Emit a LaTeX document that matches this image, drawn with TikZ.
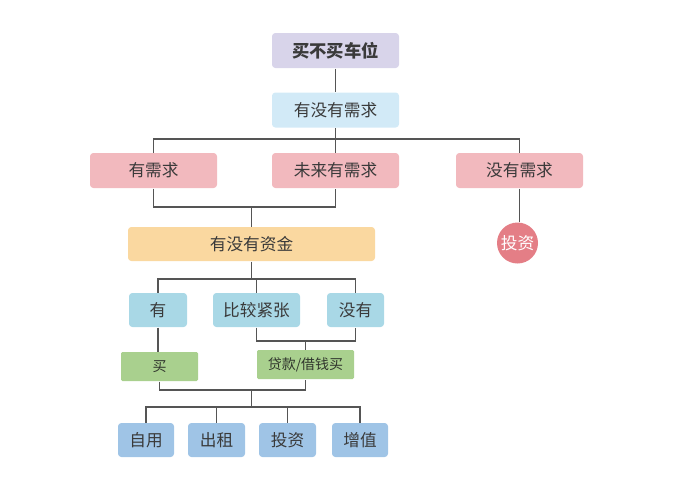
\documentclass[tikz,border=0pt]{standalone}
\usepackage{fontspec}
\setmainfont{Noto Sans CJK SC}
\definecolor{cPurple}{HTML}{D8D4EA}
\definecolor{cSky}{HTML}{D2EAF7}
\definecolor{cPink}{HTML}{F2B9BE}
\definecolor{cOrange}{HTML}{FAD8A0}
\definecolor{cRed}{HTML}{E47E86}
\definecolor{cTeal}{HTML}{A9D8E6}
\definecolor{cGreen}{HTML}{A9D08E}
\definecolor{cBlue}{HTML}{9FC4E6}
\definecolor{cLine}{HTML}{555555}
\definecolor{cText}{HTML}{3A3A3A}
\tikzset{every picture/.style={line width=0.75pt}}
\tikzset{
  box/.style={rectangle, rounded corners=2.5pt, inner sep=0pt, text=cText,
    minimum height=26.25pt, font=\fontsize{12.5pt}{14pt}\selectfont},
  smallbox/.style={box, rounded corners=1pt, minimum height=21.75pt,
    text=cText!80!cGreen!60!black, font=\fontsize{10.5pt}{12pt}\selectfont},
  link/.style={draw=cLine, line width=0.9pt}
}

\begin{document}
\begin{tikzpicture}[x=0.75pt,y=0.75pt,yscale=-1,xscale=1]
\useasboundingbox (0,0) rectangle (700,483);

%Title boxes
\node [box, fill=cPurple, minimum width=95.25pt, font=\fontsize{13pt}{15pt}\selectfont\bfseries] (buyornot) at (335.5,50.5) {买不买车位};
\node [box, fill=cSky, minimum width=95.25pt] (demand) at (335.5,110) {有没有需求};

%Demand row
\node [box, fill=cPink, minimum width=95.25pt] (need) at (153.5,170.5) {有需求};
\node [box, fill=cPink, minimum width=95.25pt] (future) at (335.5,170.5) {未来有需求};
\node [box, fill=cPink, minimum width=95.25pt] (noneed) at (519.5,170.5) {没有需求};
\node [circle, fill=cRed, inner sep=0pt, minimum size=30.75pt, text=white, font=\fontsize{12.5pt}{14pt}\selectfont] (invest) at (517.5,243) {投资};

%Fund row
\node [box, fill=cOrange, minimum width=185.25pt, minimum height=25.5pt] (fund) at (251.5,244) {有没有资金};
\node [box, fill=cTeal, minimum width=43.5pt, minimum height=25.5pt] (have) at (158,310) {有};
\node [box, fill=cTeal, minimum width=65.25pt, minimum height=25.5pt] (tight) at (256.5,310) {比较紧张};
\node [box, fill=cTeal, minimum width=42.75pt, minimum height=25.5pt] (none) at (355.5,310) {没有};
\node [smallbox, fill=cGreen, minimum width=57.75pt] (buy) at (159.5,366.5) {买};
\node [smallbox, fill=cGreen, minimum width=72.75pt] (loan) at (305.5,364.5) {贷款/借钱买};

%Use row
\node [box, fill=cBlue, minimum width=42pt, minimum height=25.5pt] (selfuse) at (146,440) {自用};
\node [box, fill=cBlue, minimum width=42.75pt, minimum height=25.5pt] (rent) at (216.5,440) {出租};
\node [box, fill=cBlue, minimum width=42.75pt, minimum height=25.5pt] (invest2) at (287.5,440) {投资};
\node [box, fill=cBlue, minimum width=42pt, minimum height=25.5pt] (grow) at (360,440) {增值};

%Junctions
\coordinate (j1) at (335.5,139);
\coordinate (j2) at (251.5,207);
\coordinate (j3) at (251.5,279);
\coordinate (j4) at (305.5,341);
\coordinate (j5) at (251.5,390);
\coordinate (j6) at (251.5,407);

%Connectors
\draw [link] (buyornot) -- (demand);
\draw [link] (demand.south) -- (j1);
\draw [link] (need.north) |- (j1) -| (noneed.north);
\draw [link] (future.north) -- (j1);
\draw [link] (need.south) |- (j2) -| (future.south);
\draw [link] (j2) -- (fund.north);
\draw [link] (noneed.south) -- (noneed.south |- invest.north);
\draw [link] (fund.south) -- (j3);
\draw [link] (have.north) |- (j3) -| (none.north);
\draw [link] (tight.north) -- (tight.north |- j3);
\draw [link] (have.south) -- (have.south |- buy.north);
\draw [link] (tight.south) |- (j4) -| (none.south);
\draw [link] (j4) -- (loan.north);
\draw [link] (buy.south) |- (j5) -| (loan.south);
\draw [link] (j5) -- (j6);
\draw [link] (selfuse.north) |- (j6) -| (grow.north);
\draw [link] (rent.north) -- (rent.north |- j6);
\draw [link] (invest2.north) -- (invest2.north |- j6);

\end{tikzpicture}
\end{document}
